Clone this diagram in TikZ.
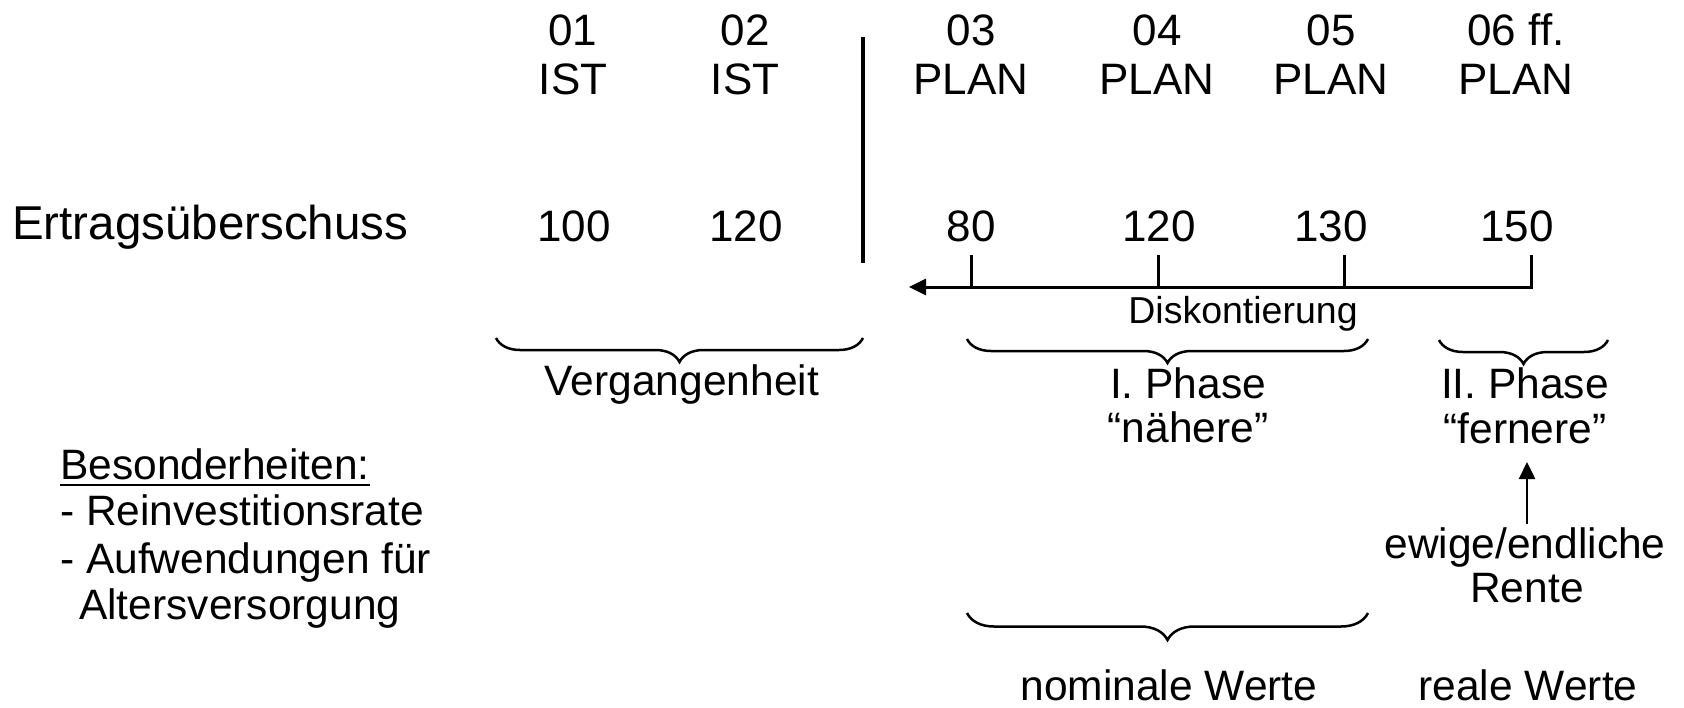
\documentclass[tikz,border=0pt]{standalone}
\usepackage{fontspec}
\setmainfont{Liberation Sans}
\usetikzlibrary{arrows.meta,decorations.pathreplacing}
\begin{document}
\begin{tikzpicture}[x=1pt,y=-1pt,
  txt/.style={inner sep=0pt, anchor=base, font=\fontsize{44}{48}\selectfont},
  mid/.style={inner sep=0pt, anchor=base, font=\fontsize{42.5}{46}\selectfont},
  note/.style={inner sep=0pt, anchor=base west, font=\fontsize{42.5}{46}\selectfont},
  small/.style={inner sep=0pt, anchor=base, font=\fontsize{37.5}{40}\selectfont},
  bracestyle/.style={decorate, decoration={brace, mirror, amplitude=24pt}, line width=2.5pt},
  axisline/.style={line width=3pt},
  ticktip/.style={-{Triangle[length=17pt,width=16pt]}}
  ]
\useasboundingbox[fill=white] (0,0) rectangle (1684,707);

% column headers
\node[txt] (h1a) at (573,45) {01};   \node[txt] (h1b) at (573,94) {IST};
\node[txt] (h2a) at (745,45) {02};   \node[txt] (h2b) at (745,94) {IST};
\node[txt] (h3a) at (971,45) {03};   \node[txt] (h3b) at (971,94) {PLAN};
\node[txt] (h4a) at (1157,45) {04};  \node[txt] (h4b) at (1157,94) {PLAN};
\node[txt] (h5a) at (1331,45) {05};  \node[txt] (h5b) at (1331,94) {PLAN};
\node[txt] (h6a) at (1516,45) {06 ff.}; \node[txt] (h6b) at (1516,94) {PLAN};

% row
\node[inner sep=0pt, anchor=base west, font=\fontsize{47.5}{50}\selectfont] (ert) at (12,239) {Ertragsüberschuss};
\node[txt] (v1) at (574,241) {100};
\node[txt] (v2) at (746,241) {120};
\node[txt] (v3) at (971,241) {80};
\node[txt] (v4) at (1159,241) {120};
\node[txt] (v5) at (1331,241) {130};
\node[txt] (v6) at (1517,241) {150};

% separator
\coordinate (sepT) at (863,37);
\coordinate (sepB) at (863,263);
\draw[line width=3.5pt] (sepT) -- (sepB);

% discount axis
\coordinate (k1t) at (971,255);  \coordinate (k1) at (971,287);
\coordinate (k2t) at (1158,255); \coordinate (k2) at (1158,287);
\coordinate (k3t) at (1344,255); \coordinate (k3) at (1344,287);
\coordinate (k4t) at (1531,255); \coordinate (k4) at (1531,287);
\coordinate (aend) at (909,287);
\draw[axisline, ticktip, line join=miter] (k4t) -- (k4) -- (aend);
\draw[axisline] (k1t) -- (k1);
\draw[axisline] (k2t) -- (k2);
\draw[axisline] (k3t) -- (k3);
\node[small] (disk) at (1243,323) {Diskontierung};

% braces
\coordinate (b1l) at (496,338);  \coordinate (b1r) at (863,338);
\coordinate (b2l) at (967,339);  \coordinate (b2r) at (1368,339);
\coordinate (b3l) at (1439,340); \coordinate (b3r) at (1608,340);
\coordinate (b4l) at (967,613);  \coordinate (b4r) at (1368,613);
\draw[bracestyle] (b1l) -- (b1r);
\draw[bracestyle] (b2l) -- (b2r);
\draw[bracestyle] (b3l) -- (b3r);
\draw[bracestyle, decoration={amplitude=27pt}] (b4l) -- (b4r);

\node[mid] (verg) at (682,395) {Vergangenheit};
\node[mid] (p1a) at (1188,398) {I. Phase};
\node[mid] (p1b) at (1188,442) {“nähere”};
\node[mid] (p2a) at (1525,398) {II. Phase};
\node[mid] (p2b) at (1525,443) {“fernere”};

\node[mid] (ew) at (1525,558) {ewige/endliche};
\node[mid] (rente) at (1527,602) {Rente};
\coordinate (arB) at (1527,524);
\coordinate (arT) at (1527,462);
\draw[line width=2.5pt, -{Triangle[length=17pt,width=16pt]}] (arB) -- (arT);

\node[mid] (nom) at (1169,700) {nominale Werte};
\node[mid] (real) at (1528,700) {reale Werte};

% notes
\node[note] (bes) at (60,479) {Besonderheiten:};
\draw[line width=2pt] ([yshift=-6pt]bes.base west) -- ([yshift=-6pt]bes.base east);
\node[note] (n1) at (60,525) {- Reinvestitionsrate};
\node[note] (n2) at (60,573) {- Aufwendungen für};
\node[note] (n3) at (79,619) {Altersversorgung};
\end{tikzpicture}
\end{document}
